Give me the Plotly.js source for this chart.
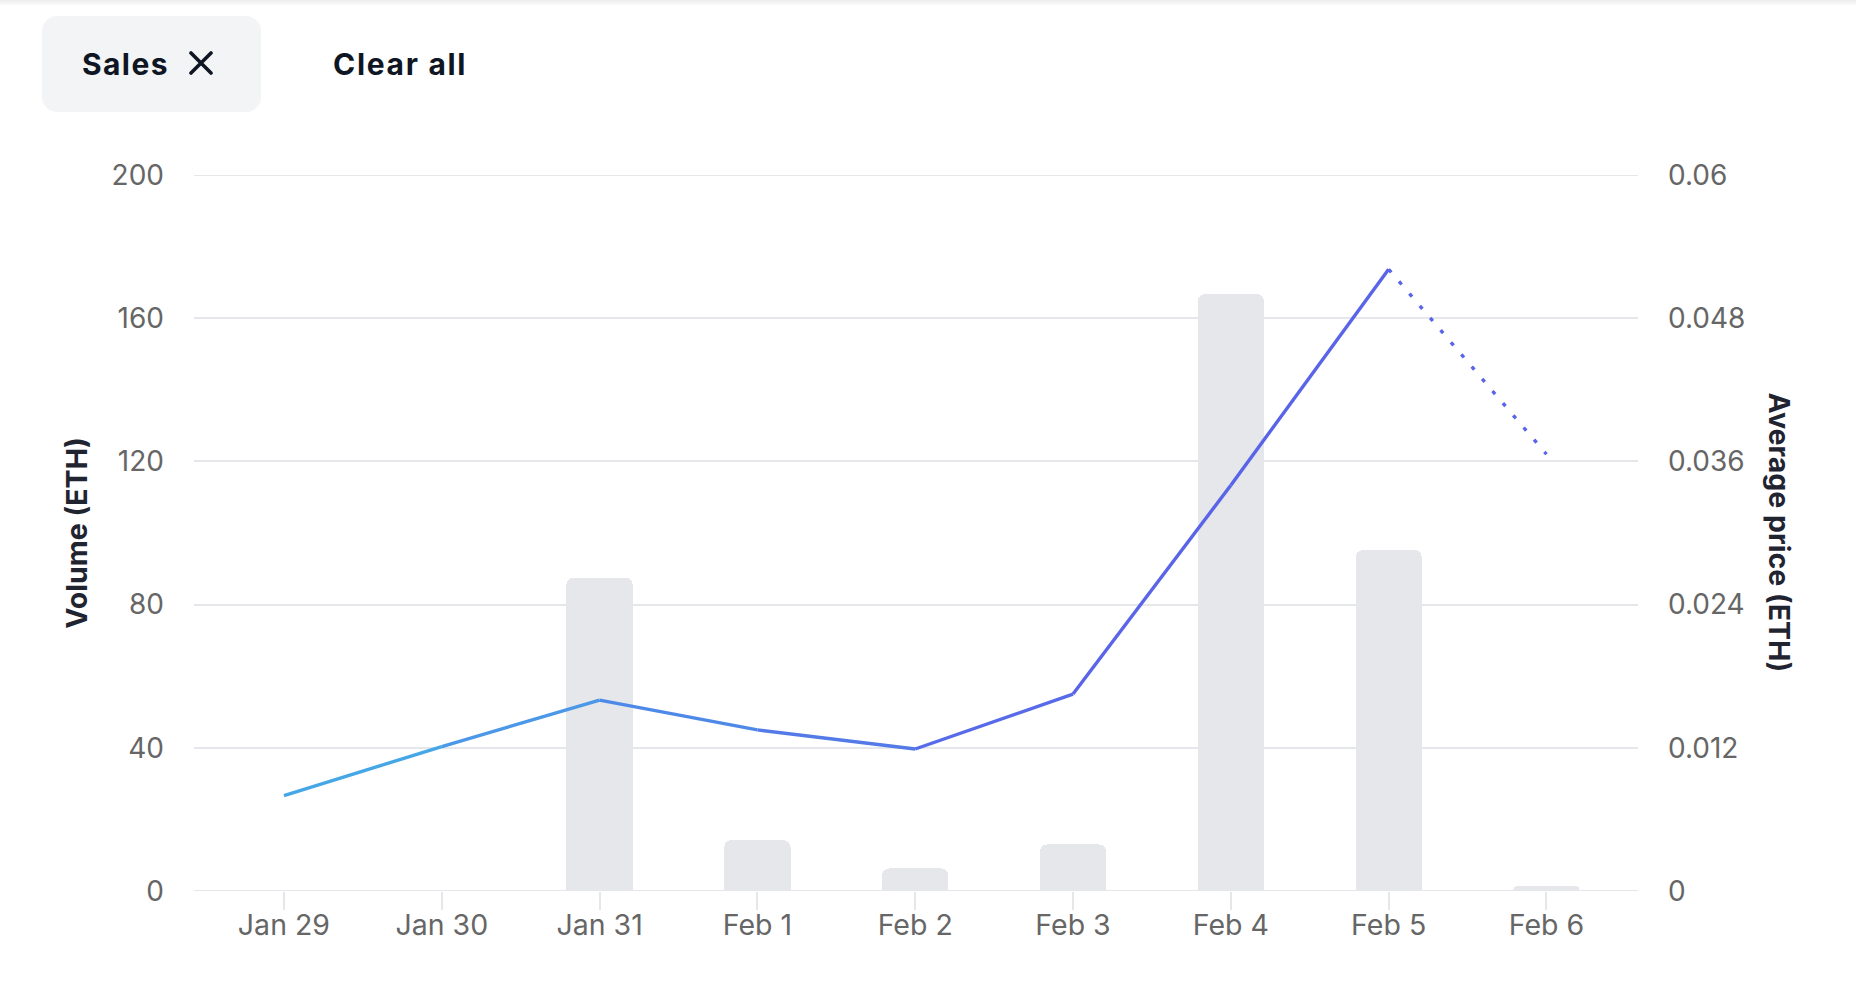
<!DOCTYPE html>
<html>
<head>
<meta charset="utf-8">
<script src="https://cdn.plot.ly/plotly-3.0.1.min.js"></script>
<style>
  html, body { margin: 0; padding: 0; background: #ffffff; }
  #wrap { position: relative; width: 1856px; height: 984px; overflow: hidden; background: #fff; }
  #chart { position: absolute; left: 0; top: 0; width: 1856px; height: 984px; }
  #topshade { position: absolute; left: 0; top: 0; width: 1856px; height: 6px;
    background: linear-gradient(#ececee, rgba(255,255,255,0)); }
  .chip { position: absolute; font-family: Inter, "DejaVu Sans", sans-serif; font-weight: 700;
    color: #0f1623; font-size: 30px; line-height: 1; }
  #salesChip { left: 42px; top: 16px; width: 219px; height: 96px; border-radius: 15px;
    background: #f3f4f6; }
  #salesChip .lbl { position: absolute; left: 40px; top: 33px; letter-spacing: 1.4px; }
  #salesChip svg { position: absolute; left: 146px; top: 35px; }
  #clearAll { left: 333px; top: 49px; letter-spacing: 1.7px; }
</style>
</head>
<body>
<div id="wrap">
  <div id="chart"></div>
  <div id="topshade"></div>
  <div class="chip" id="salesChip"><span class="lbl">Sales</span>
    <svg width="26" height="24" viewBox="0 0 26 24"><path d="M3 2 L23 22 M23 2 L3 22" stroke="#0f1623" stroke-width="3.6" stroke-linecap="round"/></svg>
  </div>
  <div class="chip" id="clearAll">Clear all</div>
</div>
<script>
// ---- data ----
const dates = ['Jan 29', 'Jan 30', 'Jan 31', 'Feb 1', 'Feb 2', 'Feb 3', 'Feb 4', 'Feb 5', 'Feb 6'];
const volumeEth = [0, 0, 87.5, 14.2, 6.3, 13.0, 166.7, 95.2, 1.3];
const avgPriceEth = [0.0080, 0.0121, 0.0160, 0.0135, 0.0119, 0.0165, 0.0340, 0.0521, 0.0366];
const volumeTicks = [0, 40, 80, 120, 160, 200];
const priceTicks = [0, 0.012, 0.024, 0.036, 0.048, 0.06];
const priceTickText = ['0', '0.012', '0.024', '0.036', '0.048', '0.06'];
const projectedStart = 7; // segment from Feb 5 to Feb 6 is dotted

// ---- styling helpers ----
const colStart = [68, 174, 230];
const colEnd = [89, 100, 232];
const gradEndIndex = 5;
function mix(t) {
  t = Math.max(0, Math.min(1, t));
  const c = colStart.map((v, i) => Math.round(v + (colEnd[i] - v) * t));
  return 'rgb(' + c.join(',') + ')';
}

const fontFam = 'Inter, "DejaVu Sans", sans-serif';
const gridCol = '#e5e7eb';
const traces = [];
traces.push({
  type: 'bar', x: dates, y: volumeEth, yaxis: 'y', width: 0.42,
  marker: { color: '#e5e7eb', cornerradius: 7 }, hoverinfo: 'skip', showlegend: false
});
for (let i = 0; i < dates.length - 1; i++) {
  const dotted = i >= projectedStart;
  traces.push({
    type: 'scatter', mode: 'lines', x: [dates[i], dates[i + 1]], y: [avgPriceEth[i], avgPriceEth[i + 1]],
    yaxis: 'y2', showlegend: false, hoverinfo: 'skip',
    line: { color: mix((i + 0.5) / gradEndIndex), width: 3.4, dash: dotted ? '4px,12px' : 'solid' }
  });
}

// edge gridlines (Plotly omits gridlines that sit exactly on the range ends)
const edgeTicks = [volumeTicks[0], volumeTicks[volumeTicks.length - 1]];
const shapes = edgeTicks.map(v => ({
  type: 'line', xref: 'paper', yref: 'y', x0: 0, x1: 1, y0: v, y1: v,
  line: { color: gridCol, width: 2 }, layer: 'below'
}));

const layout = {
  width: 1856, height: 984,
  margin: { l: 194, r: 218, t: 175, b: 93, pad: 0 },
  paper_bgcolor: 'rgba(0,0,0,0)', plot_bgcolor: 'rgba(0,0,0,0)',
  font: { family: fontFam, color: '#666666', size: 28 },
  bargap: 0,
  shapes: shapes,
  xaxis: {
    type: 'category', range: [-0.57, 8.58], showgrid: false, zeroline: false, showline: false,
    ticks: 'outside', ticklen: 18, tickwidth: 2, tickcolor: gridCol, ticklabelstandoff: -9,
    tickfont: { family: fontFam, size: 28.5, color: '#666666' }, fixedrange: true
  },
  yaxis: {
    range: [0, 200], tickvals: volumeTicks, showgrid: true, gridcolor: gridCol, gridwidth: 2,
    zeroline: false, showline: false, ticks: '', ticklabelstandoff: 29,
    tickfont: { family: fontFam, size: 28, color: '#666666' },
    title: { text: 'Volume (ETH)', standoff: 15, font: { family: fontFam, size: 28.5, color: '#1f2430', weight: 700 } },
    automargin: false, fixedrange: true
  },
  yaxis2: {
    overlaying: 'y', side: 'right', range: [0, 0.06], tickvals: priceTicks, ticktext: priceTickText,
    showgrid: false, zeroline: false, showline: false, ticks: '', ticklabelstandoff: 29,
    tickfont: { family: fontFam, size: 28, color: '#666666' }, automargin: false, fixedrange: true
  },
  annotations: [{
    text: 'Average price (ETH)', xref: 'paper', yref: 'paper', x: 1.0986, y: 0.5,
    xanchor: 'center', yanchor: 'middle', textangle: 90, showarrow: false,
    font: { family: fontFam, size: 28.5, color: '#1f2430', weight: 700 }
  }]
};

Plotly.newPlot('chart', traces, layout, { displayModeBar: false, staticPlot: true });
</script>
</body>
</html>
